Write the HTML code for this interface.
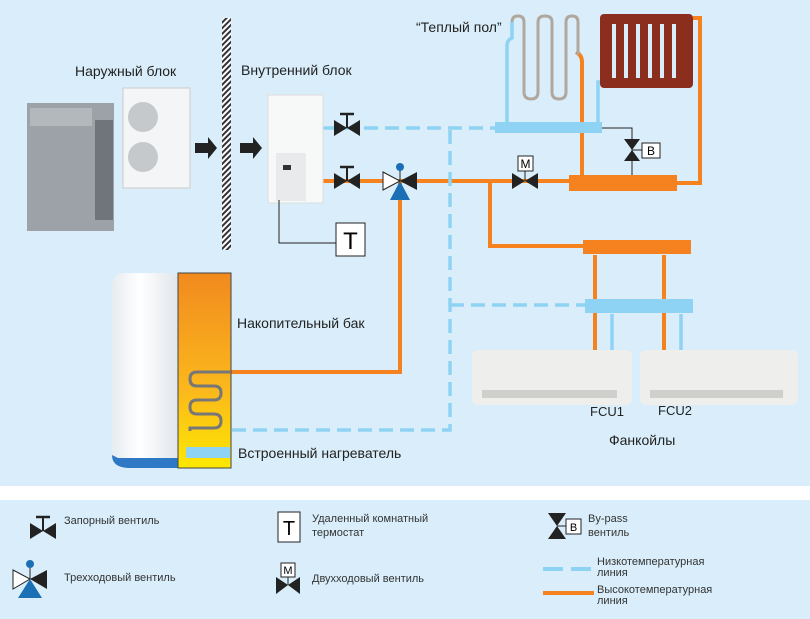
<!DOCTYPE html><html><head><meta charset="utf-8"><style>
body{margin:0;width:810px;height:614px;overflow:hidden;background:#d9eefa;font-family:"Liberation Sans",sans-serif}
</style></head><body>
<svg width="810" height="614" viewBox="0 0 810 614" xmlns="http://www.w3.org/2000/svg" font-family="Liberation Sans, sans-serif">
<defs>
<pattern id="h" width="4" height="4" patternUnits="userSpaceOnUse" patternTransform="rotate(45)"><rect width="4" height="4" fill="#fff"/><rect width="2" height="4" fill="#333"/></pattern>
<linearGradient id="tk" x1="0" y1="0" x2="0" y2="1"><stop offset="0" stop-color="#f18a1f"/><stop offset="0.6" stop-color="#fbb81c"/><stop offset="1" stop-color="#fde800"/></linearGradient>
<linearGradient id="cy" x1="0" x2="1"><stop offset="0" stop-color="#e6ecf0"/><stop offset="0.4" stop-color="#fff"/><stop offset="1" stop-color="#dde3e8"/></linearGradient>
<g id="sv"><line x1="0" y1="-14" x2="0" y2="0" stroke="#222" stroke-width="2"/><line x1="-7" y1="-14" x2="7" y2="-14" stroke="#222" stroke-width="2.5"/><path d="M-13,-8 L0,0 L-13,8Z M13,-8 L0,0 L13,8Z" fill="#222"/></g>
</defs>
<rect x="0" y="486" width="810" height="14" fill="#fff"/>
<g stroke="#f5821f" stroke-width="4" fill="none">
<path d="M322,181 H570"/><path d="M400,181 V372 H230"/><path d="M490,181 V246 H585"/>
<path d="M582,175 V62 Q582,55 576,52"/><path d="M677,183 H700 V18 H693"/>
<path d="M595,255 V350 M664,255 V350"/>
</g>
<g stroke="#8fd3f4" stroke-width="3.5" fill="none">
<path d="M322,128 H495" stroke-dasharray="14,7"/>
<path d="M450,130 V430 H230" stroke-dasharray="14,7"/>
<path d="M450,305 H585" stroke-dasharray="14,7"/>
<path d="M507,123 V45 Q507,40 512,38 V22"/><path d="M598,123 V82 H604"/>
<path d="M612,314 V350 M681,314 V350"/>
</g>
<path d="M512,22 Q512,16 518,16 Q524,16 524,22 V92 Q524,99 531,99 Q538,99 538,92 V22 Q538,16 545,16 Q552,16 552,22 V92 Q552,99 559,99 Q566,99 566,92 V22 Q566,16 572,16 Q578,16 578,22 V55" stroke="#b0a89e" stroke-width="3" fill="none"/>
<rect x="495" y="122" width="107" height="11" fill="#8fd3f4"/>
<rect x="569" y="175" width="108" height="16" fill="#f5821f"/>
<rect x="583" y="240" width="108" height="14" fill="#f5821f"/>
<rect x="585" y="299" width="108" height="14" fill="#8fd3f4"/>
<rect x="600" y="14" width="93" height="74" rx="4" fill="#8c2e1e"/>
<g fill="#d9eefa"><rect x="612" y="24" width="4" height="54"/><rect x="624" y="24" width="4" height="54"/><rect x="636" y="24" width="4" height="54"/><rect x="648" y="24" width="4" height="54"/><rect x="660" y="24" width="4" height="54"/><rect x="672" y="24" width="4" height="54"/></g>
<path d="M602,128 H632 V175" stroke="#222" stroke-width="1" fill="none"/>
<path d="M624,139 L632,150 L640,139Z M624,161 L632,150 L640,161Z" fill="#222"/>
<line x1="632" y1="150" x2="642" y2="150" stroke="#222"/><rect x="642" y="143" width="18" height="15" fill="#fff" stroke="#222"/><text x="651" y="155" font-size="12" text-anchor="middle">B</text>
<path d="M512,173 L525,181 L512,189Z M538,173 L525,181 L538,189Z" fill="#222"/><line x1="525" y1="181" x2="525" y2="170" stroke="#222"/><rect x="518" y="156" width="15" height="15" fill="#fff" stroke="#222"/><text x="525.5" y="168" font-size="12" text-anchor="middle">M</text>
<use href="#sv" x="347" y="128"/><use href="#sv" x="347" y="181"/>
<path d="M383,172 L400,181 L383,190Z" fill="#fff" stroke="#222"/><path d="M417,172 L400,181 L417,190Z" fill="#222"/><path d="M400,181 L390,200 L410,200Z" fill="#1b6fb5"/><line x1="400" y1="181" x2="400" y2="170" stroke="#222"/><circle cx="400" cy="167" r="4" fill="#1b6fb5"/>
<rect x="222" y="18" width="9" height="232" fill="url(#h)"/>
<rect x="27" y="103" width="87" height="128" fill="#9da2a8"/><rect x="95" y="120" width="18" height="100" fill="#6f757b"/><rect x="30" y="108" width="62" height="18" fill="#b3b8bd"/>
<rect x="123" y="88" width="67" height="100" fill="#f4f5f6" stroke="#ccc"/><circle cx="143" cy="117" r="15" fill="#c6c9cc"/><circle cx="143" cy="157" r="15" fill="#c6c9cc"/>
<path d="M195,143 H208 V137 L217,148 L208,159 V153 H195Z M240,143 H253 V137 L262,148 L253,159 V153 H240Z" fill="#222"/>
<rect x="268" y="95" width="55" height="108" fill="#f7f8f8" stroke="#ddd"/><rect x="276" y="153" width="30" height="48" fill="#e8eaeb"/><rect x="283" y="165" width="8" height="5" fill="#333"/>
<path d="M279,200 V243 H336" stroke="#222" fill="none"/><rect x="336" y="223" width="29" height="33" fill="#fff" stroke="#222"/><text x="350.5" y="249" font-size="24" text-anchor="middle">T</text>
<rect x="112" y="273" width="70" height="195" rx="12" fill="url(#cy)"/><path d="M112,455 Q112,468 130,468 H182 V458 H118Z" fill="#2f78c5"/>
<rect x="178" y="273" width="53" height="195" fill="url(#tk)" stroke="#444" stroke-width="1"/>
<path d="M231,372 H197 Q190,372 190,379 Q190,386 197,386 H214 Q221,386 221,393 Q221,400 214,400 H197 Q190,400 190,407 Q190,414 197,414 H214 Q221,414 221,421 Q221,428 214,428 H190 V431" stroke="#777" stroke-width="3" fill="none"/>
<rect x="186" y="447" width="44" height="11" fill="#8fd3f4"/>
<rect x="472" y="350" width="160" height="55" rx="6" fill="#eeeeec"/><rect x="482" y="390" width="135" height="8" fill="#cfcfcc"/>
<rect x="640" y="350" width="158" height="55" rx="6" fill="#eeeeec"/><rect x="650" y="390" width="133" height="8" fill="#cfcfcc"/>
<g font-size="14" fill="#222">
<text x="75" y="76">Наружный блок</text><text x="241" y="75">Внутренний блок</text>
<text x="416" y="32">“Теплый пол”</text>
<text x="237" y="328">Накопительный бак</text><text x="238" y="458">Встроенный нагреватель</text>
<text x="590" y="416" font-size="13">FCU1</text><text x="658" y="415" font-size="13">FCU2</text><text x="609" y="445">Фанкойлы</text>
</g>
<use href="#sv" x="43" y="531"/><text x="64" y="524" font-size="11" fill="#333">Запорный вентиль</text>
<path d="M13,570 L30,579 L13,589Z" fill="#fff" stroke="#222"/><path d="M47,570 L30,579 L47,589Z" fill="#222"/><path d="M30,579 L18,598 L42,598Z" fill="#1b6fb5"/><circle cx="30" cy="564" r="4" fill="#1b6fb5"/><line x1="30" y1="568" x2="30" y2="579" stroke="#222"/>
<text x="64" y="581" font-size="11" fill="#333">Трехходовый вентиль</text>
<rect x="278" y="512" width="22" height="30" fill="#fff" stroke="#222"/><text x="289" y="535" font-size="20" text-anchor="middle">T</text>
<text x="312" y="522" font-size="11" fill="#333">Удаленный комнатный</text><text x="312" y="536" font-size="11" fill="#333">термостат</text>
<rect x="281" y="563" width="14" height="14" fill="#fff" stroke="#222"/><text x="288" y="574" font-size="11" text-anchor="middle">M</text><line x1="288" y1="577" x2="288" y2="585" stroke="#222"/>
<path d="M276,577 L288,585 L276,594Z M300,577 L288,585 L300,594Z" fill="#222"/>
<text x="312" y="582" font-size="11" fill="#333">Двухходовый вентиль</text>
<path d="M548,513 L557,526 L566,513Z M548,539 L557,526 L566,539Z" fill="#222"/>
<line x1="557" y1="526" x2="566" y2="526" stroke="#222"/><rect x="566" y="519" width="15" height="15" fill="#fff" stroke="#222"/><text x="573.5" y="531" font-size="11" text-anchor="middle">B</text>
<text x="588" y="522" font-size="11" fill="#333">By-pass</text><text x="588" y="536" font-size="11" fill="#333">вентиль</text>
<path d="M543,569 H594" stroke="#8fd3f4" stroke-width="4" stroke-dasharray="20,8"/>
<text x="597" y="565" font-size="11" fill="#333">Низкотемпературная</text><text x="597" y="576" font-size="11" fill="#333">линия</text>
<path d="M543,593 H594" stroke="#f5821f" stroke-width="4"/>
<text x="597" y="593" font-size="11" fill="#333">Высокотемпературная</text><text x="597" y="604" font-size="11" fill="#333">линия</text>
</svg>
</body></html>
